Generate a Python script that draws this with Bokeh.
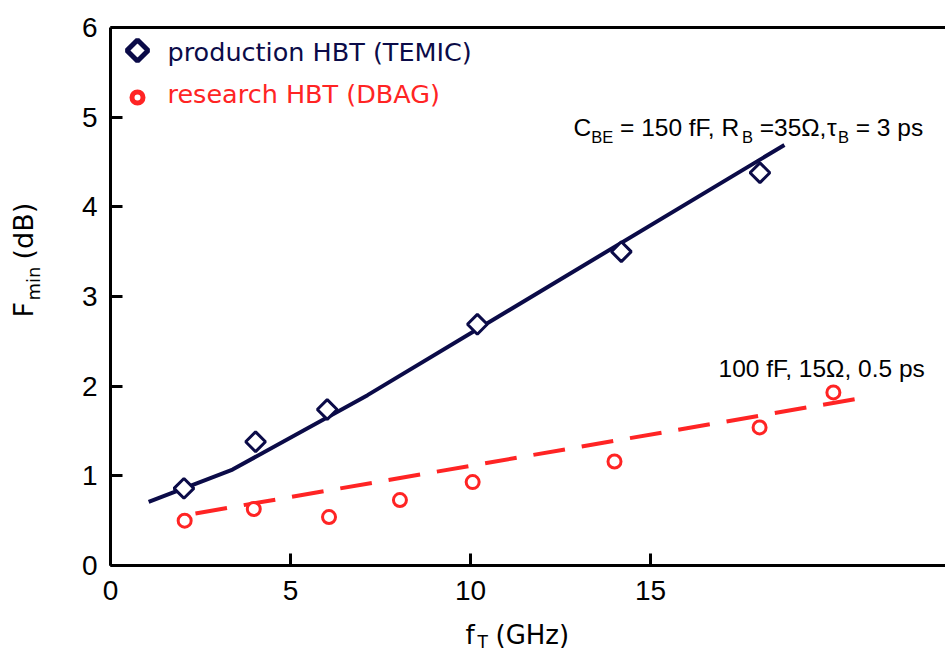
import math
from bokeh.plotting import figure
from bokeh.models import Range1d, FixedTicker, Label, LinearAxis
from bokeh.embed import file_html
from bokeh.resources import INLINE

# ---------------- data ----------------
prod_x = [2.04, 4.03, 6.02, 10.19, 14.19, 18.04]
prod_y = [0.86, 1.38, 1.74, 2.69, 3.50, 4.38]

res_x = [2.06, 3.98, 6.07, 8.04, 10.06, 14.0, 18.03, 20.08]
res_y = [0.50, 0.63, 0.54, 0.73, 0.93, 1.16, 1.54, 1.93]

fit_prod_x = [1.06, 3.39, 7.14, 18.72]
fit_prod_y = [0.71, 1.07, 1.90, 4.69]

fit_res_x = [2.36, 20.89]
fit_res_y = [0.58, 1.87]

x_ticks = [0, 5, 10, 15]
y_ticks = [0, 1, 2, 3, 4, 5, 6]

legend_labels = ["production HBT (TEMIC)", "research HBT (DBAG)"]

# ---------------- layout ----------------
W, H = 945, 652
LEFT, TOP, BOTTOM = 110, 27, 565
PX_X = 36.0
PX_Y = (BOTTOM - TOP) / 6.0
X_MAX = (W - LEFT) / PX_X

NAVY = "#0b0b48"
RED = "#ff2424"
FONT = "DejaVu Sans"
TFONT = "Liberation Sans"
BASE_FIX = 0.4  # em offset of Bokeh's alphabetic baseline


def dx(px):
    return (px - LEFT) / PX_X


def dy(py):
    return (BOTTOM - py) / PX_Y


p = figure(width=W, height=H, output_backend="svg", toolbar_location=None,
           x_range=Range1d(dx(0), dx(W)), y_range=Range1d(dy(H), dy(0)),
           x_axis_location=None, y_axis_location=None)
p.min_border = 0
p.min_border_left = 0
p.min_border_right = 0
p.min_border_top = 0
p.min_border_bottom = 0
p.title.visible = False
p.outline_line_color = None
p.grid.visible = False
p.xgrid.visible = False
p.ygrid.visible = False
p.background_fill_color = "white"
p.border_fill_color = "white"


def style_axis(ax):
    ax.axis_line_width = 3
    ax.axis_line_color = "black"
    ax.major_tick_in = 12
    ax.major_tick_out = 0
    ax.major_tick_line_width = 3
    ax.major_tick_line_color = "black"
    ax.minor_tick_line_color = None
    ax.major_label_text_font = TFONT
    ax.major_label_text_font_size = "28px"
    ax.major_label_text_color = "black"


xaxis = LinearAxis(fixed_location=0, bounds=(0, X_MAX),
                   ticker=FixedTicker(ticks=x_ticks), major_label_standoff=15)
yaxis = LinearAxis(fixed_location=0, bounds=(0, 6),
                   ticker=FixedTicker(ticks=y_ticks), major_label_standoff=13)
style_axis(xaxis)
style_axis(yaxis)
topaxis = LinearAxis(fixed_location=6, bounds=(0, X_MAX),
                     ticker=FixedTicker(ticks=[]), axis_line_width=3,
                     axis_line_color="black", major_tick_line_color=None,
                     minor_tick_line_color=None, major_label_text_font_size="0px")
p.add_layout(xaxis, "below")
p.add_layout(yaxis, "left")
p.add_layout(topaxis, "above")

# fits
p.line(fit_prod_x, fit_prod_y, line_color=NAVY, line_width=4)
p.line(fit_res_x, fit_res_y, line_color=RED, line_width=4, line_dash="32 17")

# data
p.scatter(prod_x, prod_y, marker="square", angle=math.pi / 4, size=14,
          fill_color="white", line_color=NAVY, line_width=3)
p.scatter(res_x, res_y, marker="circle", size=13,
          fill_color="white", line_color=RED, line_width=3)

# legend (manual)
p.scatter([dx(137)], [dy(50)], marker="square", angle=math.pi / 4, size=15,
          fill_color="white", line_color=NAVY, line_width=5)
p.scatter([dx(137)], [dy(97)], marker="circle", size=11,
          fill_color="white", line_color=RED, line_width=5)


def lab(text, px, py, size, color="black", font=FONT, rotated=False):
    if rotated:
        px = px - BASE_FIX * size
    else:
        py = py - BASE_FIX * size
    p.add_layout(Label(x=dx(px), y=dy(py), text=text, text_font=font,
                       text_font_size=f"{size}px", text_color=color,
                       text_align="left", text_baseline="alphabetic",
                       angle=math.pi / 2 if rotated else 0.0))


lab(legend_labels[0], 167, 62, 25.5, NAVY)
lab(legend_labels[1], 167, 104, 25.5, RED)

# annotation 1 (pieces laid out left to right with subscripts)
MAIN, SUB = 24.5, 16.5
ARIAL = {" ": 278, "=": 584, "0": 556, "1": 556, "2": 556, "3": 556, "5": 556,
         "f": 278, "F": 611, ",": 278, "R": 722, "C": 722, "B": 667, "E": 667,
         "\u03a9": 768, "\u03c4": 450, "p": 556, "s": 500}
pieces = [("C", False), ("BE", True), (" = 150 fF, R", False), ("B", True),
          (" =35\u03a9,", False), ("\u03c4", False), ("B", True), (" = 3 ps", False)]
cx = 573.0
for txt, sub in pieces:
    sz = SUB if sub else MAIN
    lead = len(txt) - len(txt.lstrip(" "))
    cx += lead * ARIAL[" "] / 1000.0 * sz
    body = txt.lstrip(" ")
    lab(body, cx, 143 if sub else 137, sz, font=TFONT)
    cx += sum(ARIAL[c] for c in body) / 1000.0 * sz

# annotation 2
lab("100 fF, 15\u03a9, 0.5 ps", 718, 378, 24.5, font=TFONT)

# x axis label
lab("f", 465, 645, 26)
lab("T", 477, 648, 17)
lab("(GHz)", 495, 645, 26)

# y axis label (rotated)
lab("F", 34, 317, 27, rotated=True)
lab("min", 40, 300, 18, rotated=True)
lab("(dB)", 34, 259, 27, rotated=True)

open("out.html", "w").write(file_html(p, INLINE))
